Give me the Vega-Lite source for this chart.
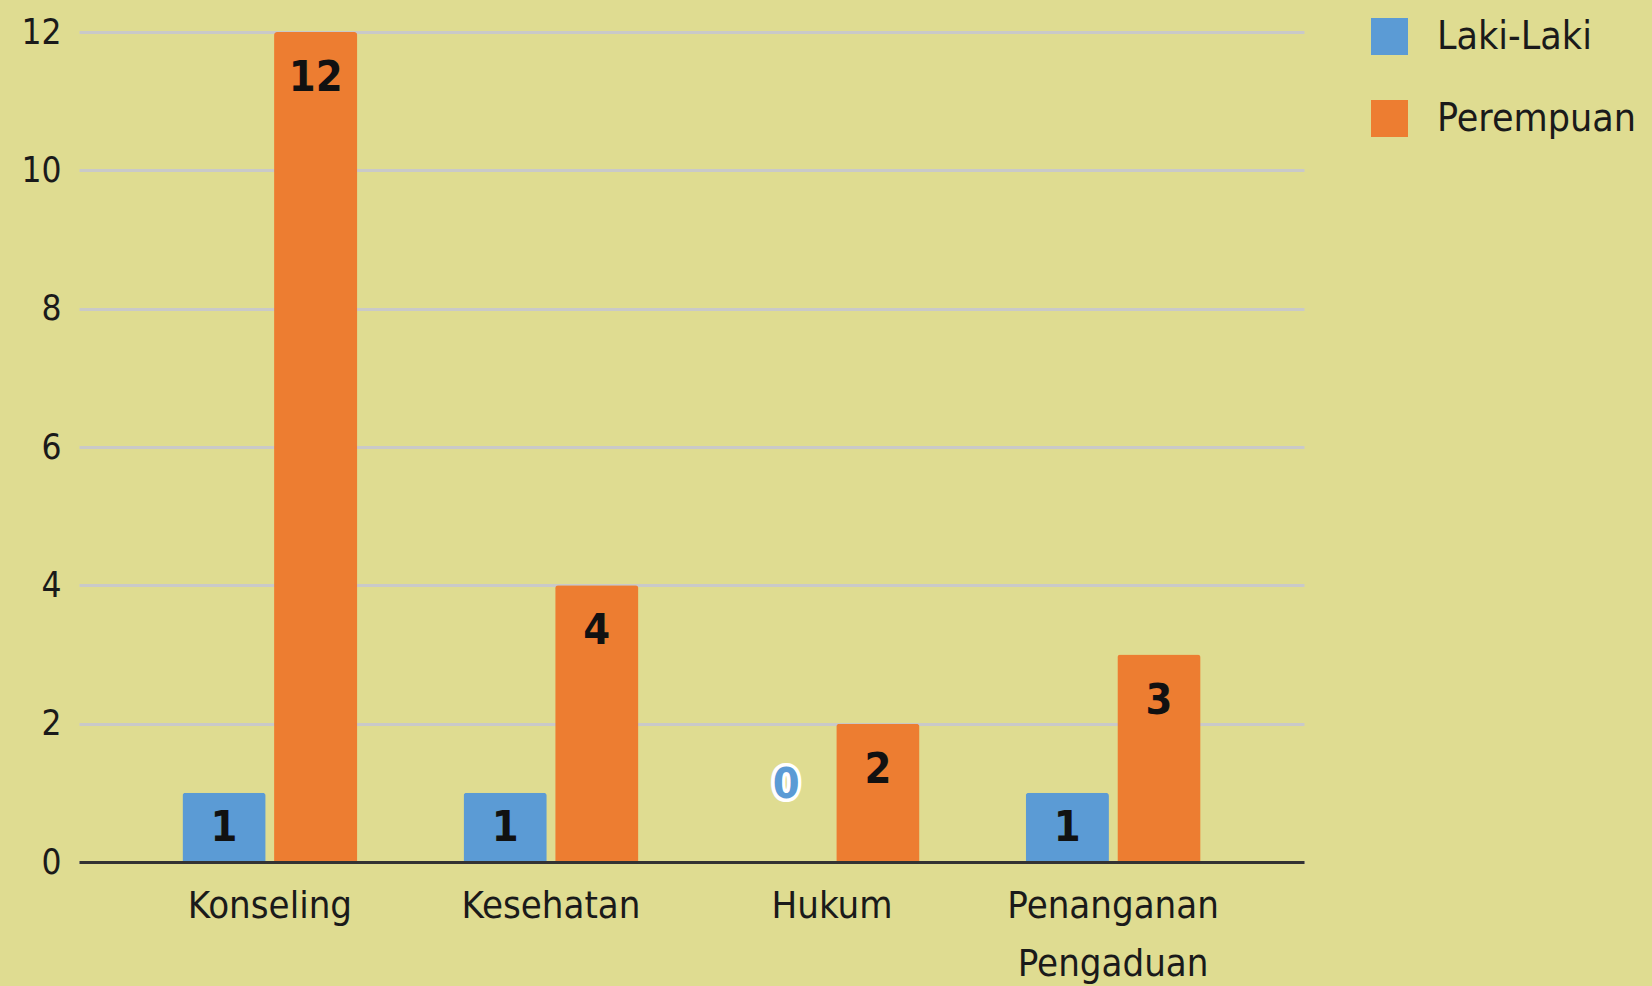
{
  "$schema": "https://vega.github.io/schema/vega-lite/v6.json",
  "width": 1225,
  "height": 830,
  "autosize": {"type": "none"},
  "padding": {"left": 79, "top": 32, "right": 348, "bottom": 124},
  "background": "#DFDC91",
  "config": {"view": {"stroke": null}, "font": "DejaVu Sans Condensed"},
  "data": {
    "values": [
      {"layanan": "Konseling", "jenis": "Laki-Laki", "jumlah": 1},
      {"layanan": "Konseling", "jenis": "Perempuan", "jumlah": 12},
      {"layanan": "Kesehatan", "jenis": "Laki-Laki", "jumlah": 1},
      {"layanan": "Kesehatan", "jenis": "Perempuan", "jumlah": 4},
      {"layanan": "Hukum", "jenis": "Laki-Laki", "jumlah": 0},
      {"layanan": "Hukum", "jenis": "Perempuan", "jumlah": 2},
      {"layanan": "Penanganan Pengaduan", "jenis": "Laki-Laki", "jumlah": 1},
      {"layanan": "Penanganan Pengaduan", "jenis": "Perempuan", "jumlah": 3}
    ]
  },
  "encoding": {
    "x": {
      "field": "layanan",
      "type": "nominal",
      "sort": null,
      "scale": {"paddingInner": 0.378, "paddingOuter": 0.368},
      "axis": {
        "title": null,
        "labelAngle": 0,
        "ticks": false,
        "domainColor": "#333333",
        "domainWidth": 3,
        "labelPadding": 25,
        "labelFontSize": 38,
        "labelLimit": 0,
        "labelColor": "#1a1a1a",
        "labelLineHeight": 58,
        "labelExpr": "datum.label == 'Penanganan Pengaduan' ? ['Penanganan', 'Pengaduan'] : datum.label",
        "zindex": 1
      }
    },
    "xOffset": {
      "field": "jenis",
      "type": "nominal",
      "sort": ["Laki-Laki", "Perempuan"],
      "scale": {"paddingInner": 0.092, "paddingOuter": 0}
    },
    "y": {
      "field": "jumlah",
      "type": "quantitative",
      "scale": {"domain": [0, 12], "nice": false},
      "axis": {
        "title": null,
        "values": [0, 2, 4, 6, 8, 10, 12],
        "grid": true,
        "gridColor": "#C9C9C9",
        "gridWidth": 3,
        "domain": false,
        "ticks": false,
        "labelPadding": 18,
        "labelFontSize": 35,
        "labelColor": "#1a1a1a"
      }
    }
  },
  "layer": [
    {
      "mark": {"type": "bar", "cornerRadiusTopLeft": 3, "cornerRadiusTopRight": 3},
      "encoding": {
        "color": {
          "field": "jenis",
          "type": "nominal",
          "sort": ["Laki-Laki", "Perempuan"],
          "scale": {"domain": ["Laki-Laki", "Perempuan"], "range": ["#5B9BD5", "#ED7D31"]},
          "legend": {
            "title": null,
            "orient": "none",
            "legendX": 1291,
            "legendY": -15,
            "symbolType": "square",
            "symbolSize": 1369,
            "symbolStrokeWidth": 0,
            "labelFontSize": 39,
            "labelLimit": 0,
            "labelOffset": 28,
            "rowPadding": 42,
            "labelColor": "#1a1a1a"
          }
        }
      }
    },
    {
      "transform": [{"filter": "datum.jumlah >= 2"}],
      "mark": {"type": "text", "baseline": "middle", "dy": 46, "fontWeight": "bold", "fontSize": 43, "color": "#111111"},
      "encoding": {"text": {"field": "jumlah", "type": "quantitative"}}
    },
    {
      "transform": [{"filter": "datum.jumlah == 1"}],
      "mark": {"type": "text", "baseline": "middle", "dy": 35, "fontWeight": "bold", "fontSize": 43, "color": "#111111"},
      "encoding": {"text": {"field": "jumlah", "type": "quantitative"}}
    },
    {
      "transform": [{"filter": "datum.jumlah == 0"}],
      "mark": {"type": "text", "baseline": "middle", "dy": -77, "fontWeight": "bold", "fontSize": 43, "fill": "white", "stroke": "white", "strokeWidth": 7, "strokeJoin": "round"},
      "encoding": {"text": {"field": "jumlah", "type": "quantitative"}}
    },
    {
      "transform": [{"filter": "datum.jumlah == 0"}],
      "mark": {"type": "text", "baseline": "middle", "dy": -77, "fontWeight": "bold", "fontSize": 43, "fill": "#5B9BD5"},
      "encoding": {"text": {"field": "jumlah", "type": "quantitative"}}
    }
  ]
}
